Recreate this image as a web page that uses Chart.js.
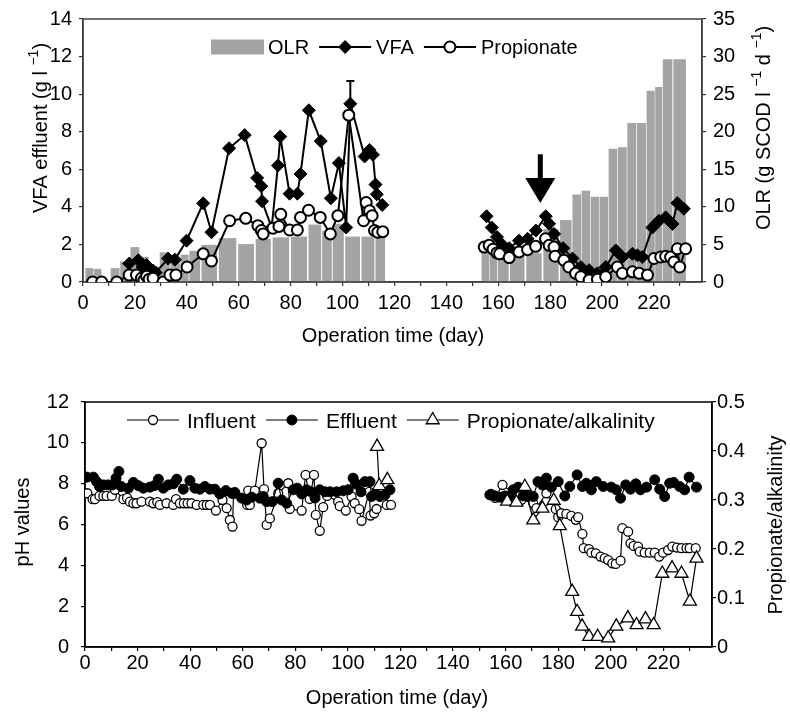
<!DOCTYPE html>
<html>
<head>
<meta charset="utf-8">
<script src="https://cdn.jsdelivr.net/npm/chart.js@4.4.1/dist/chart.umd.min.js"></script>
<style>
  body { margin: 0; background: #fff; }
  canvas { display: block; }
</style>
</head>
<body>
<canvas id="vfaChart" width="790" height="350"></canvas>
<canvas id="phChart" width="790" height="366"></canvas>
<script>
// top panel: VFA / propionate (g/l) and OLR bars (g SCOD/l/d)
// a null value at day 135 breaks the lines between the two run periods
var vfaDays = [17.8, 21.3, 23.0, 24.5, 25.5, 27.0, 28.0, 32.8, 35.4, 39.9, 46.3, 49.5, 56.3, 62.3, 67.1, 68.7, 69.0, 72.7, 75.1, 76.0,
  79.6, 82.6, 83.8, 87.0, 91.6, 95.5, 98.6, 101.4, 103.0, 108.5, 110.4, 111.7, 112.7, 113.2, 115.3, 135,
  155.5, 157.5, 159.5, 161.5, 164.2, 168.0, 171.3, 174.5, 178.3, 179.6, 181.5, 185.0, 188.6, 191.8, 195.0,
  198.2, 201.4, 205.3, 207.8, 211.7, 213.6, 215.5, 219.4, 221.9, 224.5, 227.1, 229.0, 231.5]
var vfaValues = [0.98, 1.16, 0.8, 0.9, 0.7, 0.6, 0.5, 1.25, 1.19, 2.2, 4.19, 2.65, 7.12, 7.82, 5.54, 5.1, 4.3, 2.9, 6.2, 7.74,
  4.7, 4.7, 5.75, 9.14, 7.5, 4.46, 6.33, 2.9, 9.49, 6.68, 7.03, 6.77, 5.19, 4.67, 4.1, null,
  3.5, 2.9, 2.4, 2.0, 1.8, 2.2, 2.3, 2.74, 3.5, 3.1, 2.56, 1.8, 1.25, 0.8, 0.63,
  0.46, 0.8, 1.68, 1.33, 1.5, 1.42, 1.33, 2.9, 3.26, 3.44, 3.09, 4.2, 3.9]

var propDays = [3.7, 7.2, 13.0, 17.8, 20.6, 22.5, 23.5, 24.5, 25.5, 27.0, 30.9, 33.5, 35.8, 40.1, 46.3, 49.5, 56.5, 62.7, 67.4, 68.7,
  69.4, 73.2, 75.5, 76.2, 79.6, 82.6, 83.8, 86.9, 91.4, 95.3, 98.2, 102.4, 108.1, 109.1, 110.4, 111.4, 112.3, 113.6, 115.5, 135,
  154.6, 156.5, 158.0, 159.5, 160.5, 164.2, 168.0, 171.3, 174.4, 178.2, 179.6, 181.5, 181.9, 185.3, 187.2,
  189.8, 191.8, 195.0, 198.2, 201.4, 205.9, 207.8, 211.7, 214.3, 217.5, 220.0, 222.6, 224.5, 226.4, 227.7, 229.0, 229.9, 232.2]
var propValues = [0, 0, 0, 0.37, 0.37, 0.2, 0.1, 0.3, 0.15, 0.2, 0, 0.37, 0.37, 0.8, 1.5, 1.12, 3.26, 3.39, 3.0, 2.74,
  2.56, 2.86, 2.96, 3.6, 2.77, 2.77, 3.44, 3.82, 3.44, 2.56, 3.53, 8.88, 3.26, 4.23, 3.79, 3.53, 2.74, 2.65, 2.68, null,
  1.86, 1.95, 1.75, 1.55, 1.5, 1.3, 1.6, 1.72, 1.9, 2.3, 1.95, 1.86, 1.37, 1.16, 0.8,
  0.46, 0.28, 0.1, 0.14, 0.28, 0.8, 0.46, 0.54, 0.46, 0.37, 1.25, 1.33, 1.37, 1.33, 1.07, 1.77, 0.8, 1.77]

// OLR bars (null = no bar there, keeps the gaps)
var olrDays = [2.4, 5.6, 8.8, 12.3, 16.1, 20.2, 23.5, 27.3, 31.5, 35.7, 39.2, 42.4, 48.2, 55.7, 63.2, 69.3, 76.1, 83.5,
  89.8, 94.2, 97.8, 103.6, 110.5, 114.6, 118.5,
  151.5, 155.4, 158.0, 161.3, 167.1, 173.8, 180.3, 186.9, 190.0, 194.0, 197.0, 200.8, 204.0, 207.9, 211.3, 215.2,
  218.9, 221.9, 224.6, 229.9]
var olrValues = [1.8, 1.7, null, 1.8, 2.7, 4.6, 3.3, 2.0, 3.9, 3.1, 3.6, 4.1, 4.9, 5.8, 5.0, 5.7, 5.9, 6.0,
  7.6, 6.8, 7.7, 6.0, 6.0, 6.0, null,
  null, 3.8, 3.8, 3.8, 3.6, 3.8, 7.0, 8.2, 11.6, 12.1, 11.3, 11.3, 17.7, 17.9, 21.1, 21.1,
  25.4, 25.9, 29.6, 29.6]

// error bar on the VFA peak and the marker arrow
var errDay = 103.0, errLow = 9.49, errHigh = 10.7
var arrowDay = 176.2, arrowFrom = 6.8, arrowTo = 4.2

// bottom panel: pH (left) and propionate/alkalinity ratio (right)
var effDays = [0.7, 3.2, 4.4, 5.5, 7.0, 8.8, 10.5, 11.8, 12.9, 13.8, 16.5, 18.4, 20.3, 22.2, 24.7, 26.3, 27.9, 29.8, 31.7, 33.6,
  34.9, 37.4, 39.9, 41.8, 43.7, 45.6, 47.5, 49.4, 51.3, 53.6, 55.8, 57.0, 59.6, 61.5, 63.4, 66.5, 67.8, 69.1, 71.2, 73.5,
  74.8, 76.7, 79.2, 80.7, 82.4, 84.3, 86.0, 87.5, 89.3, 91.3, 93.2, 95.7, 98.2, 100.1, 102.0, 103.3, 105.0, 106.5, 108.4, 109.0,
  110.5, 112.2, 114.1, 116.0, 135,
  154.0, 155.9, 157.8, 159.7, 161.6, 162.9, 164.8, 166.7, 168.6, 170.5, 172.3, 174.0, 175.5, 177.4, 180.0, 182.5, 184.4, 187.2,
  189.2, 190.7, 192.6, 194.5, 197.1, 200.2, 202.1, 203.7, 205.7, 207.5, 209.5, 211.3, 213.6, 216.7, 218.6, 220.5, 222.4, 223.9,
  226.2, 228.1, 229.8, 232.6]
var effValues = [8.32, 8.32, 8.1, 7.86, 7.94, 7.94, 7.94, 8.27, 8.6, 7.86, 7.78, 8.06, 7.9, 7.78, 7.83, 7.9, 8.22, 7.78, 7.94, 7.99,
  8.22, 7.73, 8.15, 7.78, 7.73, 7.86, 7.73, 7.73, 7.5, 7.66, 7.53, 7.57, 7.29, 7.2, 7.34, 7.29, 7.37, 7.12, 7.12, 8.02,
  7.2, 7.04, 7.7, 7.78, 7.5, 7.7, 7.6, 7.3, 7.7, 7.6, 7.6, 7.6, 7.65, 7.7, 8.27, 7.97, 7.6, 8.1, 8.1, 7.37,
  7.5, 7.37, 7.45, 7.7, null,
  7.45, 7.4, 7.34, 7.4, 7.4, 7.7, 7.83, 7.4, 7.4, 7.37, 8.1, 7.94, 8.27, 7.83, 8.1, 7.4, 7.86, 8.43,
  7.86, 8.02, 7.7, 8.1, 7.86, 7.83, 7.7, 7.29, 7.94, 7.73, 7.99, 7.7, 7.83, 8.19, 7.73, 7.37, 8.02, 8.06,
  7.86, 7.7, 8.32, 7.83]

var infDays = [0.9, 2.9, 3.8, 5.5, 7.0, 8.2, 10.2, 11.4, 14.6, 16.0, 17.1, 18.4, 19.6, 21.5, 24.7, 26.0, 27.5, 28.5, 31.0, 33.6,
  34.6, 36.1, 37.6, 39.0, 40.5, 42.5, 45.0, 46.3, 47.5, 49.8, 52.3, 53.9, 55.1, 56.1, 56.5, 61.7, 62.1, 62.7, 64.6, 67.2,
  68.1, 69.1, 70.3, 73.5, 77.3, 77.9, 82.4, 83.9, 85.5, 87.1, 87.8, 89.3, 90.6, 92.1, 96.3, 96.9, 99.2, 101.4, 102.6, 104.3,
  105.2, 108.1, 108.6, 110.0, 110.9, 114.8, 116.4, 135, 154.5, 156.0,
  158.8, 166.0, 170.5, 171.7, 175.5, 179.1, 180.0, 181.2, 183.1, 185.0, 186.7, 187.6, 189.2, 189.7, 191.7, 192.6, 194.3, 196.1,
  197.7, 199.0, 200.6, 201.9, 203.7, 204.4, 206.6, 207.5, 208.7, 210.4, 211.0, 212.9, 214.8, 216.7, 218.4, 219.9, 221.8, 223.4,
  225.2, 226.9, 228.8, 230.0, 232.3]
var infValues = [7.53, 7.24, 7.24, 7.4, 7.4, 7.4, 7.4, 7.7, 7.24, 7.3, 7.12, 7.04, 7.04, 7.12, 7.12, 7.04, 7.1, 6.96, 7.04, 6.96,
  7.24, 7.04, 7.04, 7.04, 7.04, 6.96, 6.96, 6.96, 6.96, 6.68, 7.2, 6.8, 6.22, 5.9, 7.5, 6.96, 7.66, 6.96, 7.66, 9.98,
  7.73, 5.98, 6.3, 7.53, 8.02, 6.76, 6.68, 8.43, 7.25, 8.43, 6.47, 5.69, 6.85, 7.4, 7.12, 6.9, 6.68, 7.37, 7.04, 6.75,
  6.18, 7.6, 6.44, 6.55, 6.76, 6.96, 6.96, null, 7.5, 7.3,
  7.94, 7.21, 7.04, 6.8, 7.53, 6.75, 6.36, 6.55, 6.52, 6.42, 6.23, 6.36, 5.54, 4.84, 4.79, 4.62, 4.59, 4.43,
  4.35, 4.26, 4.1, 4.07, 4.23, 5.82, 5.65, 5.08, 4.95, 4.92, 4.67, 4.62, 4.62, 4.62, 4.43, 4.62, 4.75, 4.92,
  4.87, 4.84, 4.84, 4.84, 4.84]

var paDays = [111.1, 111.9, 115.0, 135, 160.6, 164.1, 167.3, 170.5, 174.0, 178.3, 180.6, 185.3, 187.2, 189.1, 191.8, 195.0,
  199.0, 202.1, 206.5, 209.8, 213.2, 216.3, 219.6, 223.3, 226.9, 230.1, 232.6]
var paValues = [0.409, 0.329, 0.341, null, 0.297, 0.295, 0.327, 0.259, 0.283, 0.299, 0.247, 0.113, 0.072, 0.042, 0.021, 0.021,
  0.018, 0.042, 0.059, 0.045, 0.057, 0.045, 0.15, 0.161, 0.15, 0.093, 0.181]

var FONT = '"Liberation Sans", Arial, sans-serif'
Chart.defaults.font.family = FONT
Chart.defaults.font.size = 20
Chart.defaults.color = '#000'
Chart.defaults.animation = false

function pairs(xs, ys) {
  return xs.map((x, i) => ({ x: x, y: ys[i] }))
}

function dayAxis(height, pad, color) {
  return {
    type: 'linear', position: 'bottom', min: 0, max: 238.5, offset: false,
    border: { color: color, width: 1.5 },
    grid: { drawOnChartArea: false, tickLength: 4, color: color, lineWidth: 1.2, offset: false },
    ticks: {
      stepSize: 10, autoSkip: false, includeBounds: false, maxRotation: 0, padding: pad,
      callback: v => (v % 20 === 0 ? v : '')
    },
    afterFit: s => { s.height = height }
  }
}

function valueAxis(pos, max, step, width, pad, color) {
  return {
    type: 'linear', position: pos, min: 0, max: max,
    border: { color: color, width: 1.5 },
    grid: { drawOnChartArea: false, tickLength: 4, color: color, lineWidth: 1.2 },
    ticks: { stepSize: step, padding: pad },
    afterFit: s => { s.width = width }
  }
}

// axis titles, text between ^ ^ is drawn as superscript
function titlesPlugin(titles) {
  return {
    id: 'axisTitles',
    afterDraw(chart) {
      var ctx = chart.ctx
      titles.forEach(t => {
        var parts = t.text.split('^')
        ctx.save()
        ctx.translate(t.x, t.y)
        if (t.vertical) ctx.rotate(-Math.PI / 2)
        ctx.fillStyle = '#000'
        ctx.textBaseline = 'alphabetic'
        var widths = parts.map((p, i) => {
          ctx.font = (i % 2 ? 14 : 20) + 'px ' + FONT
          return ctx.measureText(p).width
        })
        var x = -widths.reduce((a, b) => a + b, 0) / 2
        parts.forEach((p, i) => {
          ctx.font = (i % 2 ? 14 : 20) + 'px ' + FONT
          ctx.fillText(p, x, i % 2 ? -2 : 7)
          x += widths[i]
        })
        ctx.restore()
      })
    }
  }
}

// legend inside the plot: symbol with line through it, then label
function legendPlugin(x0, y, size, gap) {
  return {
    id: 'insideLegend',
    afterDraw(chart) {
      var ctx = chart.ctx
      var x = x0
      ctx.save()
      ctx.font = size + 'px ' + FONT
      ctx.textBaseline = 'alphabetic'
      chart.data.datasets.slice().reverse().forEach(ds => {
        if (!ds.label) return
        if (ds.type === 'bar') {
          ctx.fillStyle = ds.backgroundColor
          ctx.fillRect(x, y - 7.5, 53, 15)
          x += 57
        } else {
          ctx.strokeStyle = ds.borderColor
          ctx.lineWidth = ds.borderWidth
          ctx.beginPath()
          ctx.moveTo(x, y)
          ctx.lineTo(x + 52, y)
          ctx.stroke()
          ctx.fillStyle = ds.pointBackgroundColor
          ctx.strokeStyle = ds.pointBorderColor
          ctx.lineWidth = ds.pointBorderWidth
          Chart.helpers.drawPoint(ctx, { pointStyle: ds.pointStyle, radius: ds.pointRadius, rotation: 0, borderWidth: ds.pointBorderWidth }, x + 26, y)
          x += 52 + gap
        }
        ctx.fillStyle = '#000'
        ctx.fillText(ds.label, x, y + size * 0.36)
        x += ctx.measureText(ds.label).width + 10
      })
      ctx.restore()
    }
  }
}

// box round the plot area; drawn over the bars but under the lines
function framePlugin(color) {
  function stroke(chart) {
    var a = chart.chartArea, ctx = chart.ctx
    ctx.save()
    ctx.strokeStyle = color
    ctx.lineWidth = 1.5
    ctx.strokeRect(a.left, a.top, a.right - a.left, a.bottom - a.top)
    ctx.restore()
  }
  return {
    id: 'frame',
    beforeDatasetsDraw(chart) {
      if (!chart.data.datasets.some(ds => ds.type === 'bar')) stroke(chart)
    },
    afterDatasetDraw(chart, args) {
      if (chart.data.datasets[args.index].type === 'bar') stroke(chart)
    }
  }
}

var marksPlugin = {
  id: 'marks',
  afterDatasetsDraw(chart) {
    var ctx = chart.ctx, xs = chart.scales.x, ys = chart.scales.y
    ctx.save()
    // error bar
    var ex = xs.getPixelForValue(errDay)
    ctx.strokeStyle = '#000'
    ctx.lineWidth = 2
    ctx.beginPath()
    ctx.moveTo(ex, ys.getPixelForValue(errLow))
    ctx.lineTo(ex, ys.getPixelForValue(errHigh))
    ctx.moveTo(ex - 4, ys.getPixelForValue(errHigh))
    ctx.lineTo(ex + 4, ys.getPixelForValue(errHigh))
    ctx.stroke()
    // arrow
    var ax = xs.getPixelForValue(arrowDay)
    var top = ys.getPixelForValue(arrowFrom), tip = ys.getPixelForValue(arrowTo)
    ctx.fillStyle = '#000'
    ctx.fillRect(ax - 2.5, top, 5, tip - top - 20)
    ctx.beginPath()
    ctx.moveTo(ax - 15, tip - 25)
    ctx.lineTo(ax + 15, tip - 25)
    ctx.lineTo(ax, tip)
    ctx.closePath()
    ctx.fill()
    ctx.restore()
  }
}

var vfaChart = new Chart(document.getElementById('vfaChart'), {
  data: {
    datasets: [{
      type: 'line',
      label: 'Propionate',
      data: pairs(propDays, propValues),
      borderColor: '#000',
      borderWidth: 2,
      pointStyle: 'circle',
      pointRadius: 5.5,
      pointBorderWidth: 2,
      pointBackgroundColor: '#fff',
      pointBorderColor: '#000',
      yAxisID: 'y',
      order: 0
    },
    {
      type: 'line',
      label: 'VFA',
      data: pairs(vfaDays, vfaValues),
      borderColor: '#000',
      borderWidth: 2,
      pointStyle: 'rectRot',
      pointRadius: 6.5,
      pointBorderWidth: 1,
      pointBackgroundColor: '#000',
      pointBorderColor: '#000',
      yAxisID: 'y',
      order: 1
    },
    {
      type: 'bar',
      label: 'OLR',
      data: pairs(olrDays, olrValues),
      backgroundColor: '#a4a4a4',
      barThickness: 'flex',
      barPercentage: 0.86,
      categoryPercentage: 1,
      yAxisID: 'y2',
      order: 2
    }]
  },
  options: {
    responsive: false,
    layout: { padding: { top: 16, left: 0, right: 0, bottom: 0 } },
    plugins: { legend: { display: false }, tooltip: { enabled: false } },
    scales: {
      x: dayAxis(68, 5, '#333'),
      y: valueAxis('left', 14, 2, 83, 7, '#333'),
      y2: valueAxis('right', 35, 5, 88, 7, '#333')
    }
  },
  plugins: [
    framePlugin('#444'),
    marksPlugin,
    legendPlugin(211, 47, 20, 5),
    titlesPlugin([
      { text: 'VFA effluent (g l ^\u22121^)', x: 40, y: 128, vertical: true },
      { text: 'OLR (g SCOD l ^\u22121^ d ^\u22121^)', x: 763, y: 128, vertical: true },
      { text: 'Operation time (day)', x: 393, y: 335 }
    ])
  ]
})

var phChart = new Chart(document.getElementById('phChart'), {
  data: {
    datasets: [{
      type: 'line',
      label: 'Propionate/alkalinity',
      data: pairs(paDays, paValues),
      borderColor: '#000',
      borderWidth: 1.2,
      pointStyle: 'triangle',
      pointRadius: 7.5,
      pointBorderWidth: 1.3,
      pointBackgroundColor: '#fff',
      pointBorderColor: '#000',
      yAxisID: 'y2',
      order: 0
    },
    {
      type: 'line',
      label: 'Effluent',
      data: pairs(effDays, effValues),
      borderColor: '#000',
      borderWidth: 1.2,
      pointStyle: 'circle',
      pointRadius: 5,
      pointBorderWidth: 1,
      pointBackgroundColor: '#000',
      pointBorderColor: '#000',
      yAxisID: 'y',
      order: 1
    },
    {
      type: 'line',
      label: 'Influent',
      data: pairs(infDays, infValues),
      borderColor: '#000',
      borderWidth: 1.2,
      pointStyle: 'circle',
      pointRadius: 4.5,
      pointBorderWidth: 1.3,
      pointBackgroundColor: '#fff',
      pointBorderColor: '#000',
      yAxisID: 'y',
      order: 2
    }]
  },
  options: {
    responsive: false,
    layout: { padding: { top: 52, left: 0, right: 0, bottom: 0 } },
    plugins: { legend: { display: false }, tooltip: { enabled: false } },
    scales: {
      x: dayAxis(69, 0, '#000'),
      y: valueAxis('left', 12, 2, 85, 12, '#000'),
      y2: valueAxis('right', 0.5, 0.1, 78, 1, '#000')
    }
  },
  plugins: [
    framePlugin('#000'),
    legendPlugin(127, 70, 21, 8),
    titlesPlugin([
      { text: 'pH values', x: 22, y: 172, vertical: true },
      { text: 'Propionate/alkalinity', x: 775, y: 175, vertical: true },
      { text: 'Operation time (day)', x: 397, y: 347 }
    ])
  ]
})
</script>
</body>
</html>
